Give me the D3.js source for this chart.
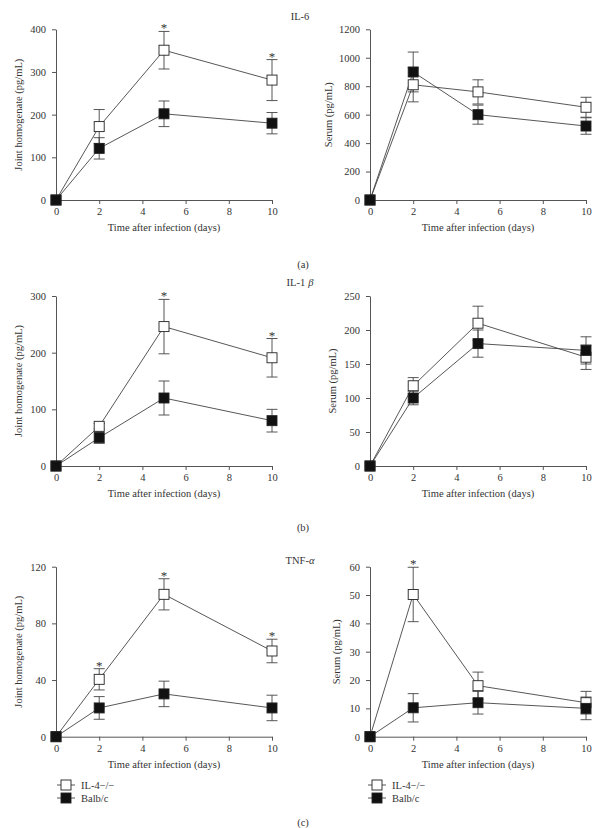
<!DOCTYPE html>
<html><head><meta charset="utf-8">
<script src="https://cdn.jsdelivr.net/npm/d3@7"></script>
<style>
body{margin:0;background:#fff;}
svg text{font-family:"Liberation Serif","DejaVu Serif",serif;fill:#333;}
</style></head>
<body>
<svg id="c" width="607" height="828"></svg>
<script>
const days = [0, 2, 5, 10];
const xTicks = [0, 2, 4, 6, 8, 10];
const seriesNames = ["IL-4\u2212/\u2212", "Balb/c"];

// IL-6
const il6JointIL4 = [0, 172, 351, 281];
const il6JointIL4Err = [0, 40, 44, 48];
const il6JointBalb = [0, 121, 202, 180];
const il6JointBalbErr = [0, 25, 30, 25];
const il6JointStars = [5, 10];
const il6SerumIL4 = [0, 810, 760, 652];
const il6SerumIL4Err = [0, 120, 85, 70];
const il6SerumBalb = [0, 900, 600, 520];
const il6SerumBalbErr = [0, 140, 67, 58];
const il6SerumStars = [];

// IL-1beta
const il1JointIL4 = [0, 70, 246, 191];
const il1JointIL4Err = [0, 5, 48, 34];
const il1JointBalb = [0, 50, 120, 80];
const il1JointBalbErr = [0, 10, 30, 20];
const il1JointStars = [5, 10];
const il1SerumIL4 = [0, 118, 210, 160];
const il1SerumIL4Err = [0, 12, 25, 18];
const il1SerumBalb = [0, 100, 180, 170];
const il1SerumBalbErr = [0, 10, 20, 20];
const il1SerumStars = [];

// TNF-alpha
const tnfJointIL4 = [0, 40.5, 100.5, 60.5];
const tnfJointIL4Err = [0, 7.5, 11, 8.3];
const tnfJointBalb = [0, 20.3, 30.2, 20.3];
const tnfJointBalbErr = [0, 8, 9, 9];
const tnfJointStars = [2, 5, 10];
const tnfSerumIL4 = [0, 50.2, 18, 12];
const tnfSerumIL4Err = [0, 9.6, 4.8, 4];
const tnfSerumBalb = [0, 10.2, 12, 10];
const tnfSerumBalbErr = [0, 5, 4, 4];
const tnfSerumStars = [2];

const svg = d3.select("#c");
const ink = "#333";
const serif = '"Liberation Serif","DejaVu Serif",serif';

const rows = [
  {title:"IL-6", titleY:20, top:29.3, bottom:200, label:"(a)", labelY:268,
   left:{max:400, ticks:[0,100,200,300,400], a:il6JointIL4, ae:il6JointIL4Err, b:il6JointBalb, be:il6JointBalbErr, stars:il6JointStars, ylab:"Joint homogenate (pg/mL)", ylx:22},
   right:{max:1200, ticks:[0,200,400,600,800,1000,1200], a:il6SerumIL4, ae:il6SerumIL4Err, b:il6SerumBalb, be:il6SerumBalbErr, stars:il6SerumStars, ylab:"Serum (pg/mL)", ylx:332}},
  {title:"IL-1", beta:true, titleY:286, top:296, bottom:466, label:"(b)", labelY:531,
   left:{max:300, ticks:[0,100,200,300], a:il1JointIL4, ae:il1JointIL4Err, b:il1JointBalb, be:il1JointBalbErr, stars:il1JointStars, ylab:"Joint homogenate (pg/mL)", ylx:22},
   right:{max:250, ticks:[0,50,100,150,200,250], a:il1SerumIL4, ae:il1SerumIL4Err, b:il1SerumBalb, be:il1SerumBalbErr, stars:il1SerumStars, ylab:"Serum (pg/mL)", ylx:336}},
  {title:"TNF-", alpha:true, titleY:564, top:566.7, bottom:736.7, label:"(c)", labelY:826,
   left:{max:120, ticks:[0,40,80,120], a:tnfJointIL4, ae:tnfJointIL4Err, b:tnfJointBalb, be:tnfJointBalbErr, stars:tnfJointStars, ylab:"Joint homogenate (pg/mL)", ylx:22},
   right:{max:60, ticks:[0,10,20,30,40,50,60], a:tnfSerumIL4, ae:tnfSerumIL4Err, b:tnfSerumBalb, be:tnfSerumBalbErr, stars:tnfSerumStars, ylab:"Serum (pg/mL)", ylx:340}}
];

function panel(cfg, x0, x1, top, bottom){
  const g = svg.append("g");
  const x = d3.scaleLinear().domain([0,10]).range([x0,x1]);
  const y = d3.scaleLinear().domain([0,cfg.max]).range([bottom,top]);
  const xa = g.append("g").attr("transform",`translate(0,${bottom})`)
    .call(d3.axisBottom(x).tickValues(xTicks).tickFormat(d3.format("d")).tickSize(4).tickPadding(4).tickSizeOuter(0));
  const ya = g.append("g").attr("transform",`translate(${x0},0)`)
    .call(d3.axisLeft(y).tickValues(cfg.ticks).tickFormat(d3.format("d")).tickSize(4).tickPadding(4).tickSizeOuter(0));
  [xa,ya].forEach(a=>{
    a.attr("font-family",serif).attr("font-size",10.5);
    a.select(".domain").attr("stroke","#555").attr("stroke-width",1);
    a.selectAll(".tick line").attr("stroke","#555");
    a.selectAll(".tick text").attr("fill",ink);
  });
  ya.selectAll(".tick text").attr("dx",-2);
  g.append("text").attr("x",(x0+x1)/2).attr("y",bottom+31).attr("text-anchor","middle")
    .attr("font-size",10.5).text("Time after infection (days)");
  g.append("text").attr("transform",`translate(${cfg.ylx},${(top+bottom)/2}) rotate(-90)`)
    .attr("text-anchor","middle").attr("font-size",10.5).text(cfg.ylab);

  const line = d3.line().x((d,i)=>x(days[i])).y(d=>y(d));
  const series = [{v:cfg.a, e:cfg.ae, fill:"#fff"},{v:cfg.b, e:cfg.be, fill:"#111"}];
  series.forEach(s=>{
    g.append("path").datum(s.v).attr("d",line).attr("fill","none").attr("stroke","#444").attr("stroke-width",0.9);
  });
  series.forEach(s=>{
    s.v.forEach((v,i)=>{
      if(!s.e[i]) return;
      const cx = x(days[i]), yt = y(v+s.e[i]), yb = y(v-s.e[i]);
      g.append("line").attr("x1",cx).attr("x2",cx).attr("y1",yt).attr("y2",yb).attr("stroke","#444").attr("stroke-width",0.9);
      [yt,yb].forEach(yy=>g.append("line").attr("x1",cx-5.5).attr("x2",cx+5.5).attr("y1",yy).attr("y2",yy).attr("stroke","#444").attr("stroke-width",0.9));
    });
  });
  series.forEach(s=>{
    g.selectAll(null).data(s.v).enter().append("rect")
      .attr("x",(d,i)=>x(days[i])-5).attr("y",d=>y(d)-5).attr("width",10).attr("height",10)
      .attr("fill",s.fill).attr("stroke","#222").attr("stroke-width",0.9);
  });
  cfg.stars.forEach(dd=>{
    const i = days.indexOf(dd);
    g.append("text").attr("x",x(dd)).attr("y",y(cfg.a[i]+cfg.ae[i])+1).attr("text-anchor","middle")
      .attr("font-size",13).text("*");
  });
  return x;
}

rows.forEach((r,ri)=>{
  panel(r.left, 56, 272, r.top, r.bottom);
  panel(r.right, 370, 586, r.top, r.bottom);
  const t = svg.append("text").attr("x",300).attr("y",r.titleY).attr("text-anchor","middle").attr("font-size",10.5);
  t.append("tspan").text(r.title);
  if(r.beta) t.append("tspan").attr("font-style","italic").attr("dx",3).text("\u03B2");
  if(r.alpha) t.append("tspan").attr("font-style","italic").text("\u03B1");
  svg.append("text").attr("x",303).attr("y",r.labelY).attr("text-anchor","middle").attr("font-size",10.5).text(r.label);
});

// legends
[[66,785],[377,785]].forEach(([lx,ly])=>{
  seriesNames.forEach((n,i)=>{
    const yy = ly + i*13;
    svg.append("line").attr("x1",lx-9).attr("x2",lx+9).attr("y1",yy).attr("y2",yy).attr("stroke","#444").attr("stroke-width",0.9);
    svg.append("rect").attr("x",lx-5).attr("y",yy-5).attr("width",10).attr("height",10)
      .attr("fill",i===0?"#fff":"#111").attr("stroke","#222").attr("stroke-width",0.9);
    svg.append("text").attr("x",lx+15).attr("y",yy+3.5).attr("font-size",10.5).text(n);
  });
});
</script>
</body></html>
